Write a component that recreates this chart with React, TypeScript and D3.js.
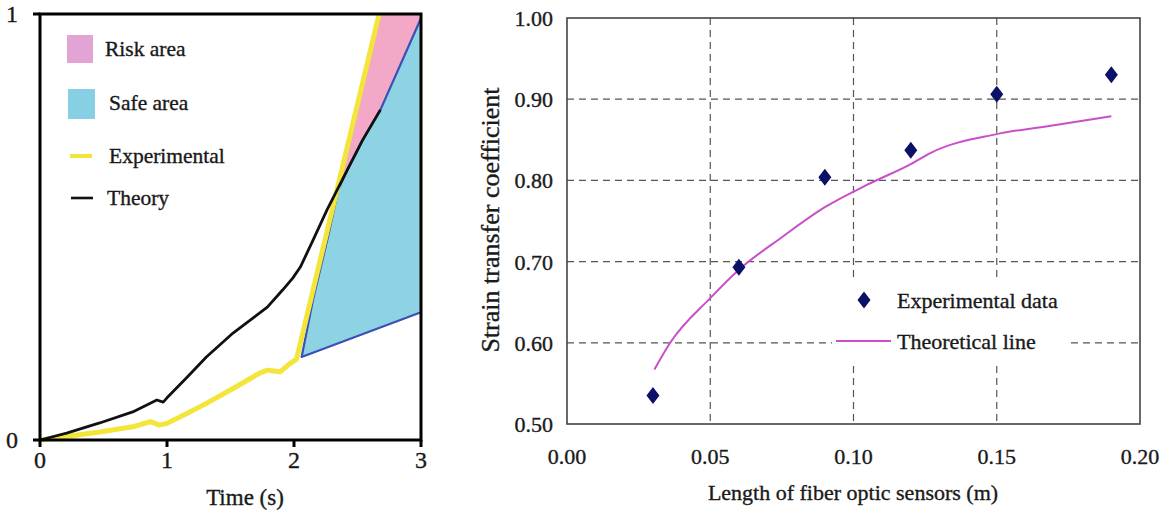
import React from "react";
import * as d3 from "d3";

// ---------- Left chart data ----------
const timeTicks = [0, 1, 2, 3];
const theoryTime = [0, 0.21, 0.47, 0.73, 0.92, 0.97, 1.0, 1.16, 1.31, 1.52, 1.79, 1.91, 1.99, 2.05, 2.15, 2.26, 2.34, 2.42, 2.54, 2.68];
const theoryVals = [0, 0.016, 0.04, 0.066, 0.094, 0.089, 0.099, 0.148, 0.195, 0.251, 0.312, 0.352, 0.38, 0.406, 0.469, 0.54, 0.587, 0.634, 0.704, 0.775];
const expTime = [0, 0.21, 0.47, 0.73, 0.87, 0.94, 1.0, 1.16, 1.31, 1.52, 1.73, 1.79, 1.89, 1.97, 2.02, 2.67];
const expVals = [0, 0.008, 0.019, 0.031, 0.043, 0.035, 0.039, 0.063, 0.086, 0.121, 0.157, 0.164, 0.16, 0.18, 0.19, 1.0];
const safeX = [2.06, 3.0, 3.0, 2.68, 2.54, 2.42, 2.35, 2.27, 2.15, 2.06];
const safeY = [0.195, 0.3, 0.99, 0.775, 0.704, 0.634, 0.59, 0.48, 0.33, 0.195];
const riskX = [2.34, 2.67, 3.0, 3.0, 2.68, 2.54, 2.42, 2.34];
const riskY = [0.59, 1.0, 1.0, 0.99, 0.775, 0.704, 0.634, 0.59];
const leftLegend = ["Risk area", "Safe area", "Experimental", "Theory"];

// ---------- Right chart data ----------
const lengthTicks = [0, 0.05, 0.1, 0.15, 0.2];
const coefTicks = [0.5, 0.6, 0.7, 0.8, 0.9, 1.0];
const expLength = [0.03, 0.06, 0.09, 0.12, 0.15, 0.19];
const expCoef = [0.535, 0.693, 0.804, 0.837, 0.906, 0.93];
const theoLength = [0.0305, 0.036, 0.05, 0.06, 0.075, 0.09, 0.105, 0.12, 0.127, 0.15, 0.17, 0.19];
const theoCoef = [0.567, 0.6, 0.655, 0.69, 0.73, 0.767, 0.795, 0.82, 0.834, 0.857, 0.868, 0.879];

const FONT = "'Liberation Serif', 'Times New Roman', serif";
const TXT = "#1a1a1a";

export default function App() {
  // left scales
  const xL = d3.scaleLinear().domain([0, 3]).range([40, 421]);
  const yL = d3.scaleLinear().domain([0, 1]).range([440, 14]);
  const lineL = d3.line<[number, number]>().x((d) => xL(d[0])).y((d) => yL(d[1]));
  const theoryPts = theoryTime.map((t, i) => [t, theoryVals[i]] as [number, number]);
  const expPts = expTime.map((t, i) => [t, expVals[i]] as [number, number]);
  const safePts = safeX.map((t, i) => [t, safeY[i]] as [number, number]);
  const riskPts = riskX.map((t, i) => [t, riskY[i]] as [number, number]);
  const safeOutline = [...safePts.slice(2), safePts[1]];

  // right scales
  const xR = d3.scaleLinear().domain([0, 0.2]).range([567, 1140]);
  const yR = d3.scaleLinear().domain([0.5, 1.0]).range([424, 18]);
  const lineR = d3
    .line<[number, number]>()
    .x((d) => xR(d[0]))
    .y((d) => yR(d[1]))
    .curve(d3.curveMonotoneX);
  const theoPts = theoLength.map((l, i) => [l, theoCoef[i]] as [number, number]);
  const diamond = (cx: number, cy: number, w = 6.5, h = 8.5) =>
    `M${cx},${cy - h}L${cx + w},${cy}L${cx},${cy + h}L${cx - w},${cy}Z`;

  const legendY = [49, 103, 156, 198];
  const textStyle = { stroke: TXT, strokeWidth: 0.35 } as const;

  return (
    <svg
      width={1168}
      height={513}
      style={{ position: "absolute", left: 0, top: 0, background: "#fff" }}
      fontFamily={FONT}
    >
      {/* ================= LEFT CHART ================= */}
      <path d={lineL(riskPts) || ""} fill="#f4a8c8" stroke="none" />
      <path d={lineL(safePts) || ""} fill="#8dd3e3" stroke="none" />
      <path d={lineL(safeOutline) || ""} fill="none" stroke="#3a50b4" strokeWidth={2.2} strokeLinejoin="round" />
      <path d={lineL(expPts) || ""} fill="none" stroke="#f3e53a" strokeWidth={5} strokeLinejoin="round" />
      <path d={lineL(theoryPts) || ""} fill="none" stroke="#111" strokeWidth={2.8} strokeLinejoin="round" />

      {/* frame */}
      <rect x={xL(0)} y={yL(1)} width={xL(3) - xL(0)} height={yL(0) - yL(1)} fill="none" stroke="#000" strokeWidth={3} />
      {timeTicks.map((t) => (
        <g key={"tl" + t}>
          <line x1={xL(t)} x2={xL(t)} y1={yL(0)} y2={yL(0) + 7} stroke="#000" strokeWidth={3} />
          <text x={xL(t)} y={yL(0) + 28} textAnchor="middle" fontSize={24} fill={TXT} {...textStyle}>
            {t}
          </text>
        </g>
      ))}
      {[0, 1].map((v) => (
        <g key={"yl" + v}>
          <line x1={xL(0) - 7} x2={xL(0)} y1={yL(v)} y2={yL(v)} stroke="#000" strokeWidth={3} />
          <text x={xL(0) - 22} y={yL(v) + 8} textAnchor="end" fontSize={24} fill={TXT} {...textStyle}>
            {v}
          </text>
        </g>
      ))}
      <text x={245} y={505} textAnchor="middle" fontSize={23} fill={TXT} {...textStyle}>
        Time (s)
      </text>

      {/* left legend */}
      <rect x={67} y={35} width={26} height={28} fill="#e2a3d5" />
      <rect x={68} y={89} width={27} height={30} fill="#87cfe3" />
      <line x1={70} x2={92} y1={legendY[2]} y2={legendY[2]} stroke="#f3e53a" strokeWidth={4} />
      <line x1={71} x2={93} y1={legendY[3]} y2={legendY[3]} stroke="#111" strokeWidth={2.6} />
      {leftLegend.map((s, i) => (
        <text key={s} x={i === 0 ? 105 : i === 3 ? 107 : 109} y={legendY[i] + 7} fontSize={21.5} fill={TXT} {...textStyle}>
          {s}
        </text>
      ))}

      {/* ================= RIGHT CHART ================= */}
      {lengthTicks.slice(1, -1).map((l) => (
        <line key={"gx" + l} x1={xR(l)} x2={xR(l)} y1={yR(1)} y2={yR(0.5)} stroke="#555" strokeWidth={1.2} strokeDasharray="7,5" />
      ))}
      {coefTicks.slice(1, -1).map((c) => (
        <line key={"gy" + c} x1={xR(0)} x2={xR(0.2)} y1={yR(c)} y2={yR(c)} stroke="#555" strokeWidth={1.2} strokeDasharray="7,5" />
      ))}
      {/* legend background */}
      <rect x={832} y={280} width={234} height={86} fill="#fff" />

      <path d={lineR(theoPts) || ""} fill="none" stroke="#c84fc8" strokeWidth={2} />
      {expLength.map((l, i) => (
        <path key={"d" + i} d={diamond(xR(l), yR(expCoef[i]))} fill="#0b1068" />
      ))}

      <rect x={xR(0)} y={yR(1)} width={xR(0.2) - xR(0)} height={yR(0.5) - yR(1)} fill="none" stroke="#444" strokeWidth={1.6} />

      {coefTicks.map((c) => (
        <text key={"yt" + c} x={553} y={yR(c) + 8} textAnchor="end" fontSize={22} fill={TXT} {...textStyle}>
          {c.toFixed(2)}
        </text>
      ))}
      {lengthTicks.map((l) => (
        <text key={"xt" + l} x={xR(l)} y={464} textAnchor="middle" fontSize={22} fill={TXT} {...textStyle}>
          {l.toFixed(2)}
        </text>
      ))}
      <text x={853} y={500} textAnchor="middle" fontSize={22} fill={TXT} {...textStyle}>
        Length of fiber optic sensors (m)
      </text>
      <text transform={`translate(499,220) rotate(-90)`} textAnchor="middle" fontSize={26} fill={TXT} {...textStyle}>
        Strain transfer coefficient
      </text>

      {/* right legend */}
      <path d={diamond(864, 300)} fill="#0b1068" />
      <text x={897} y={308} fontSize={22} fill={TXT} {...textStyle}>
        Experimental data
      </text>
      <line x1={836} x2={891} y1={341} y2={341} stroke="#c84fc8" strokeWidth={2.2} />
      <text x={897} y={349} fontSize={22} fill={TXT} {...textStyle}>
        Theoretical line
      </text>
    </svg>
  );
}
